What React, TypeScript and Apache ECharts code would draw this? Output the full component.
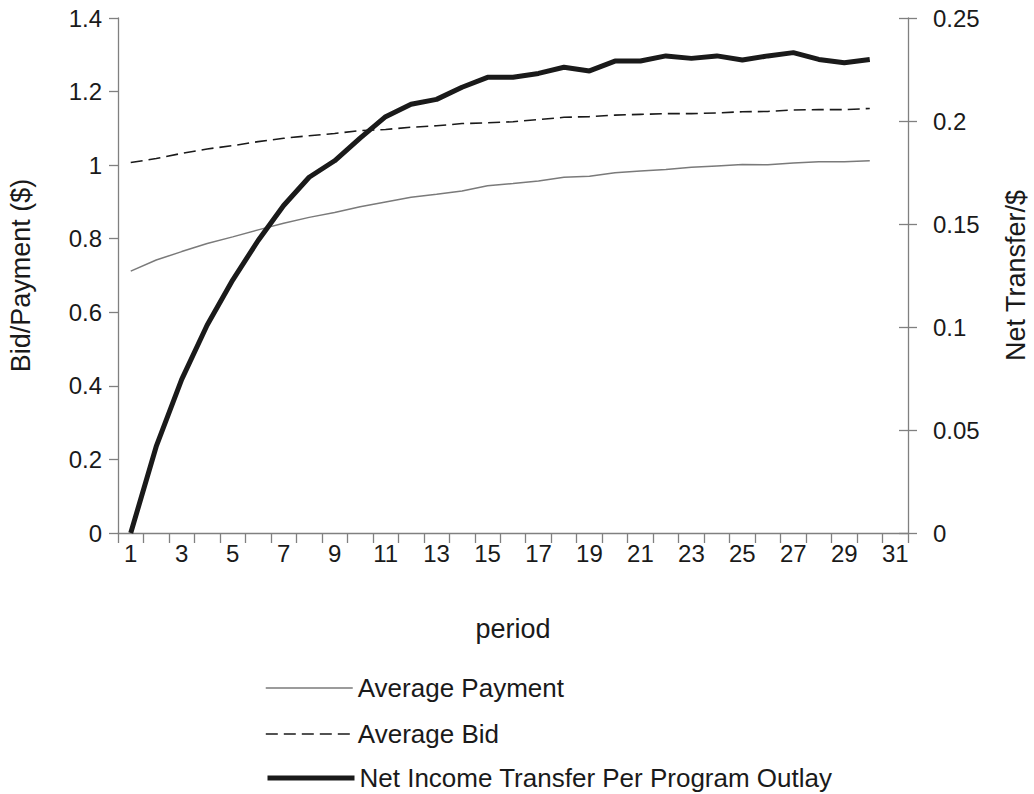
import React, { useEffect, useRef } from "react";
import * as echarts from "echarts";

const periods = Array.from({ length: 31 }, (_, i) => String(i + 1));

const averagePayment = [
  0.712, 0.742, 0.765, 0.787, 0.805, 0.824, 0.842, 0.858, 0.871, 0.887,
  0.9, 0.913, 0.921, 0.93, 0.944, 0.95, 0.957, 0.967, 0.97, 0.979,
  0.984, 0.988, 0.994, 0.998, 1.002, 1.001, 1.006, 1.009, 1.009, 1.012,
];

const averageBid = [
  1.007, 1.018, 1.032, 1.044, 1.053, 1.064, 1.073, 1.08, 1.086, 1.094,
  1.097, 1.103, 1.107, 1.113, 1.115, 1.118, 1.124, 1.13, 1.132, 1.136,
  1.138, 1.14, 1.14, 1.142, 1.145, 1.146, 1.15, 1.151, 1.151, 1.154,
];

const netTransfer = [
  0.0, 0.042, 0.0746, 0.101, 0.1228, 0.142, 0.159, 0.1727, 0.1807, 0.1917,
  0.2021, 0.2081, 0.2105, 0.2164, 0.2212, 0.2212, 0.2231, 0.2261, 0.2243, 0.2291,
  0.2291, 0.2316, 0.2304, 0.2316, 0.2296, 0.2316, 0.2332, 0.2299, 0.2283, 0.2299,
];

const seriesNames = [
  "Average Payment",
  "Average Bid",
  "Net Income Transfer Per Program Outlay",
];
const legendTops = [670, 716, 760];

const FONT = "'Liberation Sans', Arial, Helvetica, sans-serif";
const TEXT = "#1a1a1a";
const AXIS = "#808080";

const lineStyles = [
  { color: "#7a7a7a", width: 1.5, type: "solid" as any },
  { color: "#1a1a1a", width: 1.6, type: [12, 6] as any },
  { color: "#1a1a1a", width: 5, type: "solid" as any },
];

export default function App() {
  const ref = useRef<HTMLDivElement>(null);

  useEffect(() => {
    if (!ref.current) return;
    const chart = echarts.init(ref.current, null, { renderer: "svg" });
    const tickStyle = { color: TEXT, fontSize: 24, fontFamily: FONT };
    const titleStyle = { color: TEXT, fontSize: 27, fontFamily: FONT };
    const legendStyle = { color: TEXT, fontSize: 26, fontFamily: FONT };
    chart.setOption({
      animation: false,
      backgroundColor: "#ffffff",
      textStyle: { fontFamily: FONT },
      grid: {
        left: 118,
        right: 126,
        top: 18,
        bottom: 261,
        containLabel: false,
        outerBoundsMode: "none",
      },
      legend: seriesNames.map((name, i) => ({
        orient: "vertical",
        left: 260,
        top: legendTops[i],
        itemWidth: 87,
        itemHeight: 26,
        itemGap: 0,
        textStyle: { ...legendStyle },
        itemStyle: { opacity: 0, borderWidth: 0 },
        lineStyle: { ...lineStyles[i] },
        data: [name],
      })),
      xAxis: {
        type: "category",
        data: periods,
        boundaryGap: true,
        name: "period",
        nameLocation: "middle",
        nameGap: 82,
        nameTextStyle: { ...titleStyle },
        axisLine: { lineStyle: { color: AXIS, width: 1.3 } },
        axisTick: { show: true, interval: 0, length: 10, lineStyle: { color: AXIS, width: 1.3 } },
        axisLabel: { ...tickStyle, interval: 1, margin: 8 },
        splitLine: { show: false },
      },
      yAxis: [
        {
          type: "value",
          position: "left",
          min: 0,
          max: 1.4,
          interval: 0.2,
          name: "Bid/Payment ($)",
          nameLocation: "middle",
          nameGap: 84,
          nameRotate: 90,
          nameTextStyle: { ...titleStyle },
          axisLine: { show: true, lineStyle: { color: AXIS, width: 1.3 } },
          axisTick: { show: true, length: 9, lineStyle: { color: AXIS, width: 1.3 } },
          axisLabel: { ...tickStyle, margin: 16 },
          splitLine: { show: false },
        },
        {
          type: "value",
          position: "right",
          min: 0,
          max: 0.25,
          interval: 0.05,
          name: "Net Transfer/$",
          nameLocation: "middle",
          nameGap: 94,
          nameRotate: 90,
          nameTextStyle: { ...titleStyle },
          axisLine: { show: true, lineStyle: { color: AXIS, width: 1.3 } },
          axisTick: { show: true, length: 9, lineStyle: { color: AXIS, width: 1.3 } },
          axisLabel: { ...tickStyle, margin: 25 },
          splitLine: { show: false },
        },
        {
          type: "value",
          position: "right",
          min: 0,
          max: 0.25,
          interval: 0.05,
          axisLine: { show: false },
          axisTick: { show: true, inside: true, length: 9, lineStyle: { color: AXIS, width: 1.3 } },
          axisLabel: { show: false },
          splitLine: { show: false },
        },
      ],
      series: [
        {
          name: seriesNames[0],
          type: "line",
          yAxisIndex: 0,
          data: averagePayment,
          symbol: "none",
          showSymbol: false,
          lineStyle: { ...lineStyles[0] },
          itemStyle: { color: lineStyles[0].color },
        },
        {
          name: seriesNames[1],
          type: "line",
          yAxisIndex: 0,
          data: averageBid,
          symbol: "none",
          showSymbol: false,
          lineStyle: { ...lineStyles[1] },
          itemStyle: { color: lineStyles[1].color },
        },
        {
          name: seriesNames[2],
          type: "line",
          yAxisIndex: 1,
          data: netTransfer,
          symbol: "none",
          showSymbol: false,
          lineStyle: { ...lineStyles[2] },
          itemStyle: { color: lineStyles[2].color },
        },
      ],
    });
    return () => chart.dispose();
  }, []);

  return (
    <div
      ref={ref}
      style={{ position: "absolute", left: 0, top: 0, width: 1034, height: 794, background: "#fff" }}
    />
  );
}
